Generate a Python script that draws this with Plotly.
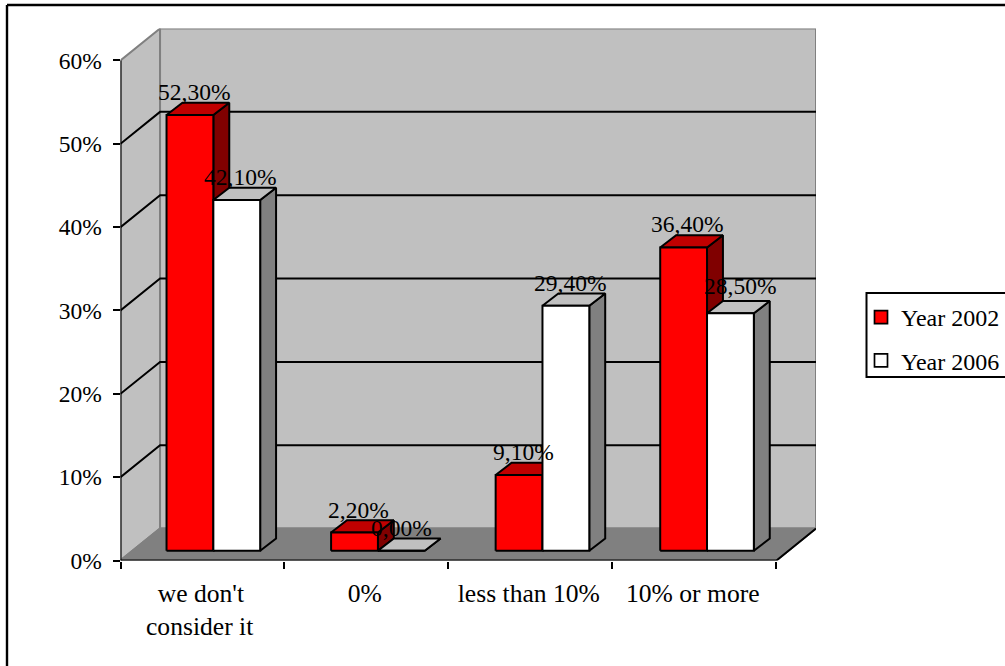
import plotly.graph_objects as go

# Survey results, in percent
CATEGORIES = ["we don't", "0%", "less than 10%", "10% or more"]
CATEGORY_SECOND_LINE = ["consider it", "", "", ""]
YEAR_2002 = [52.3, 2.2, 9.1, 36.4]
YEAR_2006 = [42.1, 0.0, 29.4, 28.5]
LABELS_2002 = ["52,30%", "2,20%", "9,10%", "36,40%"]
LABELS_2006 = ["42,10%", "0,00%", "29,40%", "28,50%"]
Y_TICKS = [0, 10, 20, 30, 40, 50, 60]
Y_TICK_TEXT = ["0%", "10%", "20%", "30%", "40%", "50%", "60%"]

# Page geometry (pixels)
W, H = 1005, 666
LEFT, RIGHT = 120.5, 816.0
BOTTOM, TOP = 560.5, 28.5
FONT = "Liberation Serif"
FS = 23.5
CAT_FS = 25.6

# Oblique projection: full depth of the chart box and of a bar, in axis units
DEPTH_X, DEPTH_Y = 0.2412, 3.83
BAR_DEPTH_X, BAR_DEPTH_Y = 0.097, 1.47
BAR_ORIGIN_X, BAR_ORIGIN_Y = 0.2807, 1.16
BAR_W = 0.2855
CAT_STEP = 1.0035

# Label nudges in pixels, per category
SHIFT_2002 = [(4, 1), (4, 1), (4, 1), (3, 1)]
SHIFT_2006 = [(3, 1), (0, 1), (4, 1), (10, 5)]

WALL, FLOOR, GREY = "#C0C0C0", "#808080", "#808080"
EDGE = 2

fig = go.Figure()


def poly(xs, ys, fill, line="black", width=EDGE):
    fig.add_trace(go.Scatter(
        x=xs + xs[:1], y=ys + ys[:1], mode="lines", fill="toself", fillcolor=fill,
        line=dict(color=line, width=width), hoverinfo="skip",
        showlegend=False, cliponaxis=False,
    ))


def path(xs, ys, color, width=EDGE):
    fig.add_trace(go.Scatter(
        x=xs, y=ys, mode="lines", line=dict(color=color, width=width),
        hoverinfo="skip", showlegend=False, cliponaxis=False,
    ))


n = len(CATEGORIES)
# Chart box: side wall, back wall, floor
poly([0, DEPTH_X, DEPTH_X, 0], [0, DEPTH_Y, 60 + DEPTH_Y, 60], WALL, GREY)
poly([DEPTH_X, n + DEPTH_X, n + DEPTH_X, DEPTH_X],
     [DEPTH_Y, DEPTH_Y, 60 + DEPTH_Y, 60 + DEPTH_Y], WALL, GREY)
poly([0, n, n + DEPTH_X, DEPTH_X], [0, 0, DEPTH_Y, DEPTH_Y], FLOOR, GREY)

# Gridlines wrap from the side wall onto the back wall
for v in Y_TICKS[1:-1]:
    path([0, DEPTH_X, n + DEPTH_X], [v, v + DEPTH_Y, v + DEPTH_Y], "black")

# Front axis lines
path([0, 0], [0, 60], "black")
path([0, n, n + DEPTH_X], [0, 0, DEPTH_Y], "black")


def bar(left, value, front, top, side):
    x0, x1 = left, left + BAR_W
    y0, y1 = BAR_ORIGIN_Y, BAR_ORIGIN_Y + value
    dx, dy = BAR_DEPTH_X, BAR_DEPTH_Y
    poly([x1, x1 + dx, x1 + dx, x1], [y0, y0 + dy, y1 + dy, y1], side)
    poly([x0, x1, x1 + dx, x0 + dx], [y1, y1, y1 + dy, y1 + dy], top)
    poly([x0, x1, x1, x0], [y0, y0, y1, y1], front)


annotations = []
for i in range(n):
    left_a = BAR_ORIGIN_X + i * CAT_STEP
    left_b = left_a + BAR_W
    bar(left_a, YEAR_2002[i], "#FF0000", "#C00000", "#800000")
    bar(left_b, YEAR_2006[i], "#FFFFFF", "#C0C0C0", "#808080")
    series = [(left_a, YEAR_2002[i], LABELS_2002[i], SHIFT_2002[i]),
              (left_b, YEAR_2006[i], LABELS_2006[i], SHIFT_2006[i])]
    for left, value, text, (sx, sy) in series:
        annotations.append(dict(
            x=left + BAR_W / 2, y=BAR_ORIGIN_Y + value, xref="x", yref="y",
            text=text, showarrow=False, xanchor="center", yanchor="bottom",
            xshift=sx, yshift=8 + sy, borderpad=0,
            font=dict(family=FONT, size=FS, color="black"),
        ))
    if CATEGORY_SECOND_LINE[i]:
        annotations.append(dict(
            x=i + 0.48, y=(H - 626) / H, xref="x", yref="paper",
            text=CATEGORY_SECOND_LINE[i], showarrow=False,
            xanchor="center", yanchor="middle", borderpad=0,
            font=dict(family=FONT, size=CAT_FS, color="black"),
        ))

# Legend entries
for name, color in (("Year 2002", "#FF0000"), ("Year 2006", "#FFFFFF")):
    fig.add_trace(go.Scatter(
        x=[None], y=[None], mode="markers", name=name, legendgroup=name,
        marker=dict(symbol="square", size=13, color=color,
                    line=dict(color="black", width=1.7)),
        hoverinfo="skip",
    ))

LX0, LY0, LY1 = 866.5, 293.0, 377.0


def px(x):
    return x / W


def py(y):
    return (H - y) / H


line_black = dict(color="black", width=2)
frame_line = dict(color="black", width=2.4)
shapes = [
    # Frame round the chart
    dict(type="line", xref="paper", yref="paper", x0=px(7), x1=px(7), y0=py(5), y1=0, line=frame_line),
    dict(type="line", xref="paper", yref="paper", x0=px(7), x1=1, y0=py(5), y1=py(5), line=frame_line),
    # Legend box
    dict(type="rect", xref="paper", yref="paper", x0=px(LX0), x1=px(W + 10),
         y0=py(LY1), y1=py(LY0), line=line_black),
]

fig.update_layout(
    width=W, height=H, autosize=False,
    margin=dict(l=0, r=0, t=0, b=0, autoexpand=False),
    paper_bgcolor="white", plot_bgcolor="white",
    font=dict(family=FONT, size=FS, color="black"),
    hovermode=False,
    xaxis=dict(
        domain=[LEFT / W, RIGHT / W], range=[0, n + DEPTH_X],
        showgrid=False, zeroline=False, showline=False,
        tickmode="array", tickvals=[i + 0.49 for i in range(n)], ticktext=CATEGORIES,
        ticks="", ticklen=0, ticklabelstandoff=15,
        tickfont=dict(family=FONT, size=CAT_FS),
        minor=dict(tick0=0, dtick=1, ticks="outside", ticklen=7, tickwidth=2,
                   tickcolor="black", showgrid=False),
    ),
    yaxis=dict(
        domain=[(H - BOTTOM) / H, (H - TOP) / H], range=[0, 60 + DEPTH_Y],
        showgrid=False, zeroline=False, showline=False,
        tickmode="array", tickvals=Y_TICKS, ticktext=Y_TICK_TEXT,
        ticks="outside", ticklen=7, tickwidth=2, tickcolor="black",
        ticklabelstandoff=6, tickfont=dict(family=FONT, size=FS),
    ),
    legend=dict(
        x=861 / W, y=py(295), xanchor="left", yanchor="top",
        bgcolor="rgba(0,0,0,0)", borderwidth=0, tracegroupgap=9,
        font=dict(family=FONT, size=24), itemclick=False, itemdoubleclick=False,
    ),
    shapes=shapes, annotations=annotations,
)

fig.write_html("out.html", config=dict(displayModeBar=False))
